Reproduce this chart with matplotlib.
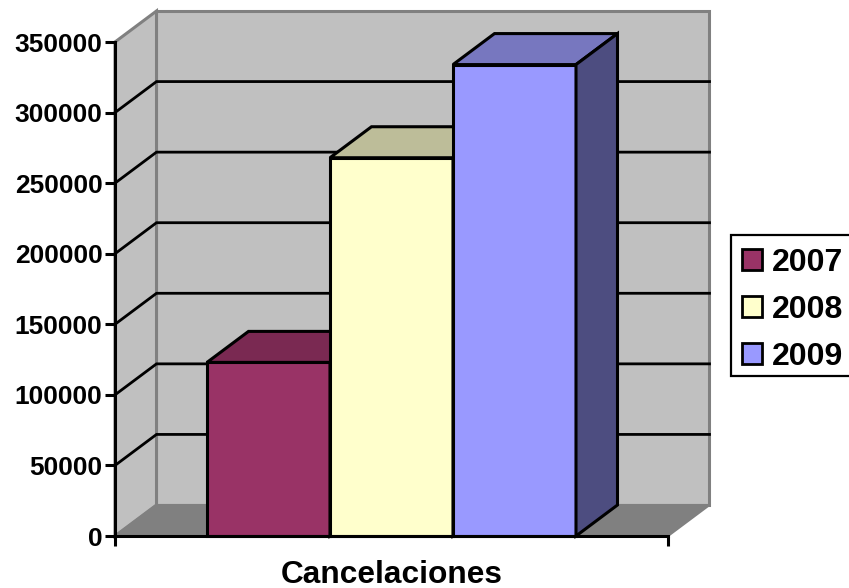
"""
3D-look column chart of cancellations per year.
"""

import matplotlib
matplotlib.use("Agg")
import matplotlib.pyplot as plt
from matplotlib.patches import Patch, Polygon, Rectangle

years = ["2007", "2008", "2009"]
values = [123000, 268000, 334000]
y_ticks = [0, 50000, 100000, 150000, 200000, 250000, 300000, 350000]
category = "Cancelaciones"

face_colors = ["#993366", "#FFFFCC", "#9999FF"]
top_colors = ["#7A2952", "#BDBD99", "#7777BF"]
side_colors = ["#4D1A33", "#808066", "#4D4D80"]

plt.rcParams["font.family"] = ["Liberation Sans", "DejaVu Sans"]
plt.rcParams["font.weight"] = "bold"

W, H = 849, 588
LEFT, RIGHT, TOP, BOTTOM = 115, 668, 42, 536
fig = plt.figure(figsize=(W / 100, H / 100), dpi=100)
ax = fig.add_axes([LEFT / W, 1 - BOTTOM / H, (RIGHT - LEFT) / W, (BOTTOM - TOP) / H])

y_max = y_ticks[-1]
ax.set_xlim(0, 1)
ax.set_ylim(0, y_max)

# depth of the fake 3D box, in data units
dx = 41.5 / (RIGHT - LEFT)
dy = 31 / (BOTTOM - TOP) * y_max
bar_w = 123 / (RIGHT - LEFT)


def poly(points, color, edge, lw, z):
    ax.add_patch(Polygon(points, closed=True, facecolor=color, edgecolor=edge,
                         linewidth=lw, zorder=z, clip_on=False, joinstyle="miter"))


# walls and floor
poly([(dx, dy), (1 + dx, dy), (1 + dx, y_max + dy), (dx, y_max + dy)], "#C0C0C0", "#808080", 2.2, 1)
poly([(0, 0), (dx, dy), (dx, y_max + dy), (0, y_max)], "#C0C0C0", "#808080", 2.2, 1)
poly([(0, 0), (1, 0), (1 + dx, dy), (dx, dy)], "#808080", "#808080", 1.5, 1)
for v in y_ticks[1:-1]:
    ax.plot([0, dx, 1 + dx], [v, v + dy, v + dy], color="black", lw=2.0, zorder=2,
            clip_on=False, solid_joinstyle="miter")

# columns
start = 0.5 - bar_w * len(values) / 2
for i, val in enumerate(values):
    x0 = start + i * bar_w
    x1 = x0 + bar_w
    z = 3 + i
    poly([(x0, 0), (x1, 0), (x1, val), (x0, val)], face_colors[i], "black", 2.2, z)
    poly([(x0, val), (x1, val), (x1 + dx, val + dy), (x0 + dx, val + dy)], top_colors[i], "black", 2.2, z)
    poly([(x1, 0), (x1 + dx, dy), (x1 + dx, val + dy), (x1, val)], side_colors[i], "black", 2.2, z)

for side in ["top", "right"]:
    ax.spines[side].set_visible(False)
for side in ["left", "bottom"]:
    ax.spines[side].set_linewidth(2.2)
    ax.spines[side].set_zorder(8)

ax.set_yticks(y_ticks)
ax.set_yticklabels([str(v) for v in y_ticks])
ax.set_xticks([0, 1])
ax.set_xticklabels(["", ""])
ax.tick_params(axis="y", length=7, width=2.2, labelsize=19, pad=2)
ax.tick_params(axis="x", length=7, width=2.2)
ax.set_xlabel(category, fontsize=22.8, fontweight="bold", labelpad=6.5)

# legend box runs off the right edge of the picture, so it is drawn apart
fig.add_artist(Rectangle((731 / W, 1 - 376 / H), 130 / W, 141 / H, transform=fig.transFigure,
                         facecolor="white", edgecolor="black", linewidth=1.6))
handles = [Patch(facecolor=c, edgecolor="black", linewidth=2) for c in face_colors]
legend = fig.legend(handles, years, loc="upper left", bbox_to_anchor=(742 / W, 1 - 248 / H),
                    fontsize=23, frameon=False,
                    handlelength=0.62, handleheight=0.62, handletextpad=0.33, labelspacing=0.53,
                    borderpad=0, borderaxespad=0)

fig.savefig("out.png", dpi=100)
plt.close(fig)
